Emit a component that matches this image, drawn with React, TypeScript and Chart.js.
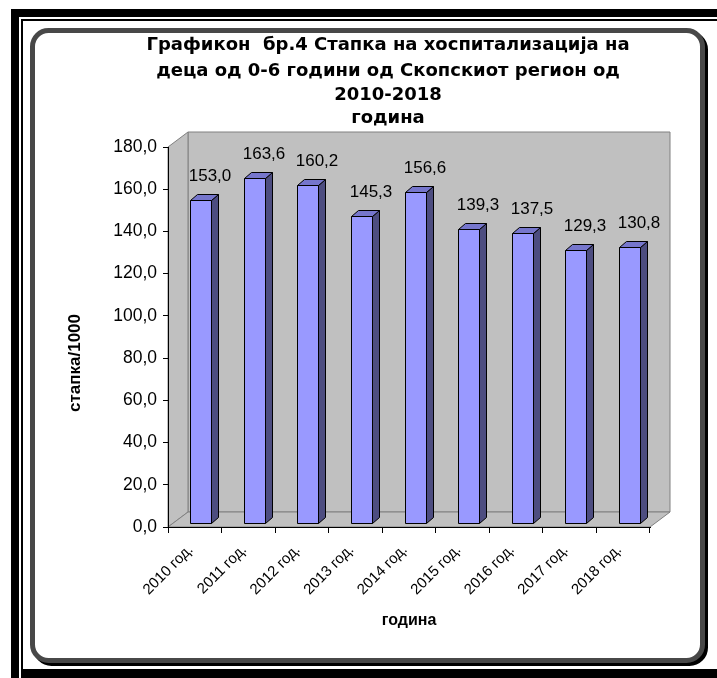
import React, { useEffect, useRef } from 'react';
import { Chart, registerables } from 'chart.js';

Chart.register(...registerables);

// Hospitalisation rate per 1000 children aged 0-6, Skopje region
const categories = [
  '2010 год.', '2011 год.', '2012 год.', '2013 год.', '2014 год.',
  '2015 год.', '2016 год.', '2017 год.', '2018 год.',
];
const rates = [153.0, 163.6, 160.2, 145.3, 156.6, 139.3, 137.5, 129.3, 130.8];

const titleLines = [
  'Графикон  бр.4 Стапка на хоспитализација на',
  'деца од 0-6 години од Скопскиот регион од',
  '2010-2018',
  'година',
];
const yAxisTitle = 'стапка/1000';
const xAxisTitle = 'година';

const W = 717;
const H = 678;
const SANS = '"Liberation Sans", Arial, sans-serif';
const TITLE_FONT = '"DejaVu Sans", Verdana, sans-serif';

// depth of the 3D walls and of the columns
const WALL_DX = 20;
const WALL_DY = 15;
const BAR_DX = 7;
const BAR_DY = 6;
const BAR_SHIFT = 6;
const BAR_LIFT = 4;

const fmt = (v: number) => v.toFixed(1).replace('.', ',');

function roundRectPath(ctx: CanvasRenderingContext2D, x: number, y: number, w: number, h: number, r: number) {
  ctx.beginPath();
  ctx.moveTo(x + r, y);
  ctx.lineTo(x + w - r, y);
  ctx.arcTo(x + w, y, x + w, y + r, r);
  ctx.lineTo(x + w, y + h - r);
  ctx.arcTo(x + w, y + h, x + w - r, y + h, r);
  ctx.lineTo(x + r, y + h);
  ctx.arcTo(x, y + h, x, y + h - r, r);
  ctx.lineTo(x, y + r);
  ctx.arcTo(x, y, x + r, y, r);
  ctx.closePath();
}

const framePlugin = {
  id: 'frame3d',
  beforeDraw(chart: any) {
    const { ctx, chartArea } = chart;
    const { left, right, top, bottom } = chartArea;
    ctx.save();
    ctx.fillStyle = '#ffffff';
    ctx.fillRect(0, 0, W, H);

    // double black border
    ctx.fillStyle = '#000000';
    ctx.fillRect(11, 9, W - 11, 8);
    ctx.fillRect(11, 9, 8, H - 9);
    ctx.fillRect(21, 19, W - 21, 2);
    ctx.fillRect(21, 19, 2, H - 19);
    ctx.fillRect(21, 669, W - 21, H - 669);

    // rounded chart frame with shadow
    ctx.lineWidth = 5;
    ctx.strokeStyle = '#000000';
    roundRectPath(ctx, 35.5, 33.5, 670, 630, 16);
    ctx.stroke();
    ctx.fillStyle = '#ffffff';
    ctx.strokeStyle = '#484848';
    roundRectPath(ctx, 32.5, 30.5, 670, 630, 16);
    ctx.fill();
    ctx.stroke();

    // walls and floor
    ctx.lineWidth = 1;
    ctx.fillStyle = '#c0c0c0';
    ctx.strokeStyle = '#808080';
    const poly = (pts: number[][]) => {
      ctx.beginPath();
      pts.forEach(([x, y], i) => (i ? ctx.lineTo(x, y) : ctx.moveTo(x, y)));
      ctx.closePath();
      ctx.fill();
      ctx.stroke();
    };
    poly([
      [left + WALL_DX, top - WALL_DY], [right + WALL_DX, top - WALL_DY],
      [right + WALL_DX, bottom - WALL_DY], [left + WALL_DX, bottom - WALL_DY],
    ]);
    poly([
      [left, top], [left + WALL_DX, top - WALL_DY],
      [left + WALL_DX, bottom - WALL_DY], [left, bottom],
    ]);
    poly([
      [left, bottom], [left + WALL_DX, bottom - WALL_DY],
      [right + WALL_DX, bottom - WALL_DY], [right, bottom],
    ]);

    // chart title
    ctx.fillStyle = '#000000';
    ctx.textAlign = 'center';
    ctx.textBaseline = 'middle';
    ctx.font = `bold 18px ${TITLE_FONT}`;
    const ty = [45, 71, 95, 118];
    titleLines.forEach((t, i) => ctx.fillText(t, 388, ty[i]));

    // value axis title
    ctx.save();
    ctx.translate(75, 363);
    ctx.rotate(-Math.PI / 2);
    ctx.font = `bold 17px ${SANS}`;
    ctx.fillText(yAxisTitle, 0, 0);
    ctx.restore();

    ctx.restore();
  },
  afterDatasetsDraw(chart: any) {
    const { ctx } = chart;
    const meta = chart.getDatasetMeta(0);
    const values = chart.data.datasets[0].data as number[];
    ctx.save();
    ctx.lineWidth = 1;
    ctx.strokeStyle = '#000000';
    ctx.lineJoin = 'miter';
    meta.data.forEach((el: any, i: number) => {
      const { x, y, base, width } = el.getProps(['x', 'y', 'base', 'width'], true);
      const l = Math.round(x - width / 2 + BAR_SHIFT) + 0.5;
      const rr = Math.round(l + width) + 0.5;
      const t = Math.round(y - BAR_LIFT) + 0.5;
      const b = Math.round(base - BAR_LIFT) + 0.5;
      const face = (pts: number[][], fill: string) => {
        ctx.beginPath();
        pts.forEach(([px, py], k) => (k ? ctx.lineTo(px, py) : ctx.moveTo(px, py)));
        ctx.closePath();
        ctx.fillStyle = fill;
        ctx.fill();
        ctx.stroke();
      };
      // side
      face([[rr, t], [rr + BAR_DX, t - BAR_DY], [rr + BAR_DX, b - BAR_DY], [rr, b]], '#4d4d80');
      // top
      face([[l, t], [l + BAR_DX, t - BAR_DY], [rr + BAR_DX, t - BAR_DY], [rr, t]], '#7676cc');
      // front
      face([[l, t], [rr, t], [rr, b], [l, b]], '#9999ff');

      ctx.fillStyle = '#000000';
      ctx.font = `17px ${SANS}`;
      ctx.textAlign = 'center';
      ctx.textBaseline = 'middle';
      ctx.fillText(fmt(values[i]), (l + rr) / 2 + 9, t - 24);
    });
    ctx.restore();
  },
};

export default function App() {
  const ref = useRef<HTMLCanvasElement | null>(null);

  useEffect(() => {
    if (!ref.current) return;
    const chart = new Chart(ref.current, {
      type: 'bar',
      data: {
        labels: categories,
        datasets: [
          {
            label: yAxisTitle,
            data: rates,
            backgroundColor: 'rgba(0,0,0,0)',
            borderWidth: 0,
            barPercentage: 0.392,
            categoryPercentage: 1,
          },
        ],
      },
      options: {
        responsive: false,
        animation: false,
        events: [],
        layout: { padding: { top: 147, right: 67, bottom: 0, left: 0 } },
        plugins: {
          legend: { display: false },
          title: { display: false },
          tooltip: { enabled: false },
        },
        scales: {
          x: {
            offset: true,
            grid: {
              display: true,
              drawOnChartArea: false,
              drawTicks: true,
              tickLength: 6,
              color: '#000000',
              offset: true,
            },
            border: { display: true, color: '#000000', width: 1 },
            ticks: {
              minRotation: 45,
              maxRotation: 45,
              autoSkip: false,
              color: '#000000',
              padding: 8,
              labelOffset: -4,
              font: { family: SANS, size: 15 },
            },
            title: {
              display: true,
              text: xAxisTitle,
              color: '#000000',
              font: { family: SANS, size: 16, weight: 'bold' },
              padding: { top: 0, bottom: 48 },
            },
            afterFit: (s: any) => {
              s.height = 151;
            },
          },
          y: {
            min: 0,
            max: 180,
            grid: {
              drawOnChartArea: false,
              drawTicks: true,
              tickLength: 5,
              color: '#000000',
            },
            border: { display: true, color: '#000000', width: 1 },
            ticks: {
              stepSize: 20,
              color: '#000000',
              padding: 6,
              font: { family: SANS, size: 17.5 },
              callback: (v: any) => fmt(Number(v)),
            },
            afterFit: (s: any) => {
              s.width = 168;
            },
          },
        },
      },
      plugins: [framePlugin],
    });
    return () => chart.destroy();
  }, []);

  return (
    <div style={{ position: 'absolute', left: 0, top: 0, width: W, height: H }}>
      <canvas ref={ref} width={W} height={H} style={{ display: 'block', width: W, height: H }} />
    </div>
  );
}
